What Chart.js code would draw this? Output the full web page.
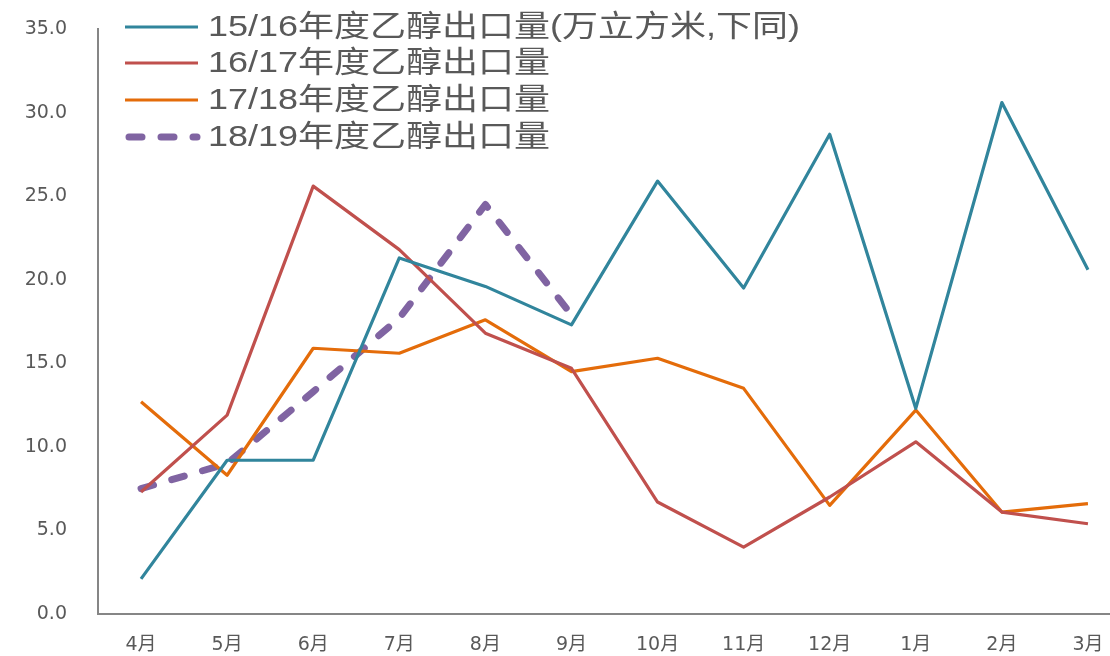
<!DOCTYPE html>
<html>
<head>
<meta charset="utf-8">
<script src="https://cdn.jsdelivr.net/npm/chart.js@4.4.1/dist/chart.umd.min.js"></script>
<style>
  html, body { margin: 0; padding: 0; background: #fff; overflow: hidden; }
  #wrap { width: 1110px; height: 656px; overflow: hidden; position: relative; }
</style>
</head>
<body>
<div id="wrap"><canvas id="chart_1" width="1132" height="656"></canvas></div>
<script>
const months = ["4月", "5月", "6月", "7月", "8月", "9月", "10月", "11月", "12月", "1月", "2月", "3月"];
const names = [
  "15/16年度乙醇出口量(万立方米,下同)",
  "16/17年度乙醇出口量",
  "17/18年度乙醇出口量",
  "18/19年度乙醇出口量",
];
const s1516 = [2.1, 9.2, 9.2, 21.3, 19.6, 17.3, 25.9, 19.5, 28.7, 12.3, 30.6, 20.6];
const s1617 = [7.3, 11.9, 25.6, 21.8, 16.8, 14.7, 6.7, 4.0, 7.0, 10.3, 6.1, 5.4];
const s1718 = [12.7, 8.3, 15.9, 15.6, 17.6, 14.5, 15.3, 13.5, 6.5, 12.2, 6.1, 6.6];
const s1819 = [7.5, 9.0, 13.3, 17.7, 24.5, 17.9, null, null, null, null, null, null];

const TEXT = "#595959";
const AXIS = "#868686";
const TICK_FONT = '"DejaVu Sans", "Noto Sans CJK SC", sans-serif';
const LEGEND_FONT = '"Liberation Sans", "Noto Sans CJK SC", sans-serif';

// legend drawn inside the plot, top-left, one entry per row
const insideLegend = {
  id: "insideLegend",
  afterDraw(chart) {
    const ctx = chart.ctx;
    const rows = [27, 63, 100, 137];
    ctx.save();
    chart.data.datasets.forEach((ds, i) => {
      const y = rows[i];
      ctx.beginPath();
      ctx.strokeStyle = ds.borderColor;
      ctx.lineWidth = ds.borderWidth;
      ctx.lineCap = ds.borderCapStyle || "butt";
      ctx.setLineDash(ds.borderDash || []);
      ctx.moveTo(ds.borderDash ? 129 : 125, y);
      ctx.lineTo(ds.borderDash ? 197 : 198, y);
      ctx.stroke();
      ctx.setLineDash([]);
      // text in the original is a bit wider than it is tall
      ctx.save();
      ctx.translate(208, y + 1);
      ctx.scale(1.2, 1);
      ctx.fillStyle = TEXT;
      ctx.font = "30px " + LEGEND_FONT;
      ctx.textBaseline = "middle";
      ctx.textAlign = "left";
      ctx.fillText(ds.label, 0, 0);
      ctx.restore();
    });
    ctx.restore();
  },
};

const ctx = document.getElementById("chart_1").getContext("2d");
new Chart(ctx, {
  type: "line",
  data: {
    labels: months,
    datasets: [
      { label: names[0], data: s1516, borderColor: "#31859C", borderWidth: 3.2 },
      { label: names[1], data: s1617, borderColor: "#C0504D", borderWidth: 3.2 },
      { label: names[2], data: s1718, borderColor: "#E46C0A", borderWidth: 3.2 },
      {
        label: names[3],
        data: s1819,
        borderColor: "#8064A2",
        borderWidth: 7,
        borderDash: [13, 19],
        borderCapStyle: "round",
      },
    ],
  },
  options: {
    responsive: false,
    animation: false,
    layout: { autoPadding: false, padding: { top: 29, right: 1, left: 0, bottom: 0 } },
    elements: {
      point: { radius: 0 },
      line: { tension: 0, borderJoinStyle: "round" },
    },
    scales: {
      x: {
        offset: true,
        grid: { display: false, drawTicks: false },
        border: { display: true, color: AXIS, width: 2 },
        ticks: { color: TEXT, padding: 20, maxRotation: 0, font: { family: TICK_FONT, size: 19 } },
        afterFit(scale) { scale.height = 42; },
      },
      y: {
        min: 0,
        max: 35,
        // tickLength (not ticks.padding) gives the label gap, so the top is not pushed down
        grid: { display: false, drawTicks: true, tickLength: 31 },
        border: { display: true, color: AXIS, width: 2 },
        ticks: {
          stepSize: 5,
          color: TEXT,
          padding: 0,
          font: { family: TICK_FONT, size: 19 },
          callback: (v) => v.toFixed(1),
        },
        afterFit(scale) { scale.width = 98; },
      },
    },
    plugins: {
      legend: { display: false },
      tooltip: { enabled: false },
    },
  },
  plugins: [insideLegend],
});
</script>
</body>
</html>
